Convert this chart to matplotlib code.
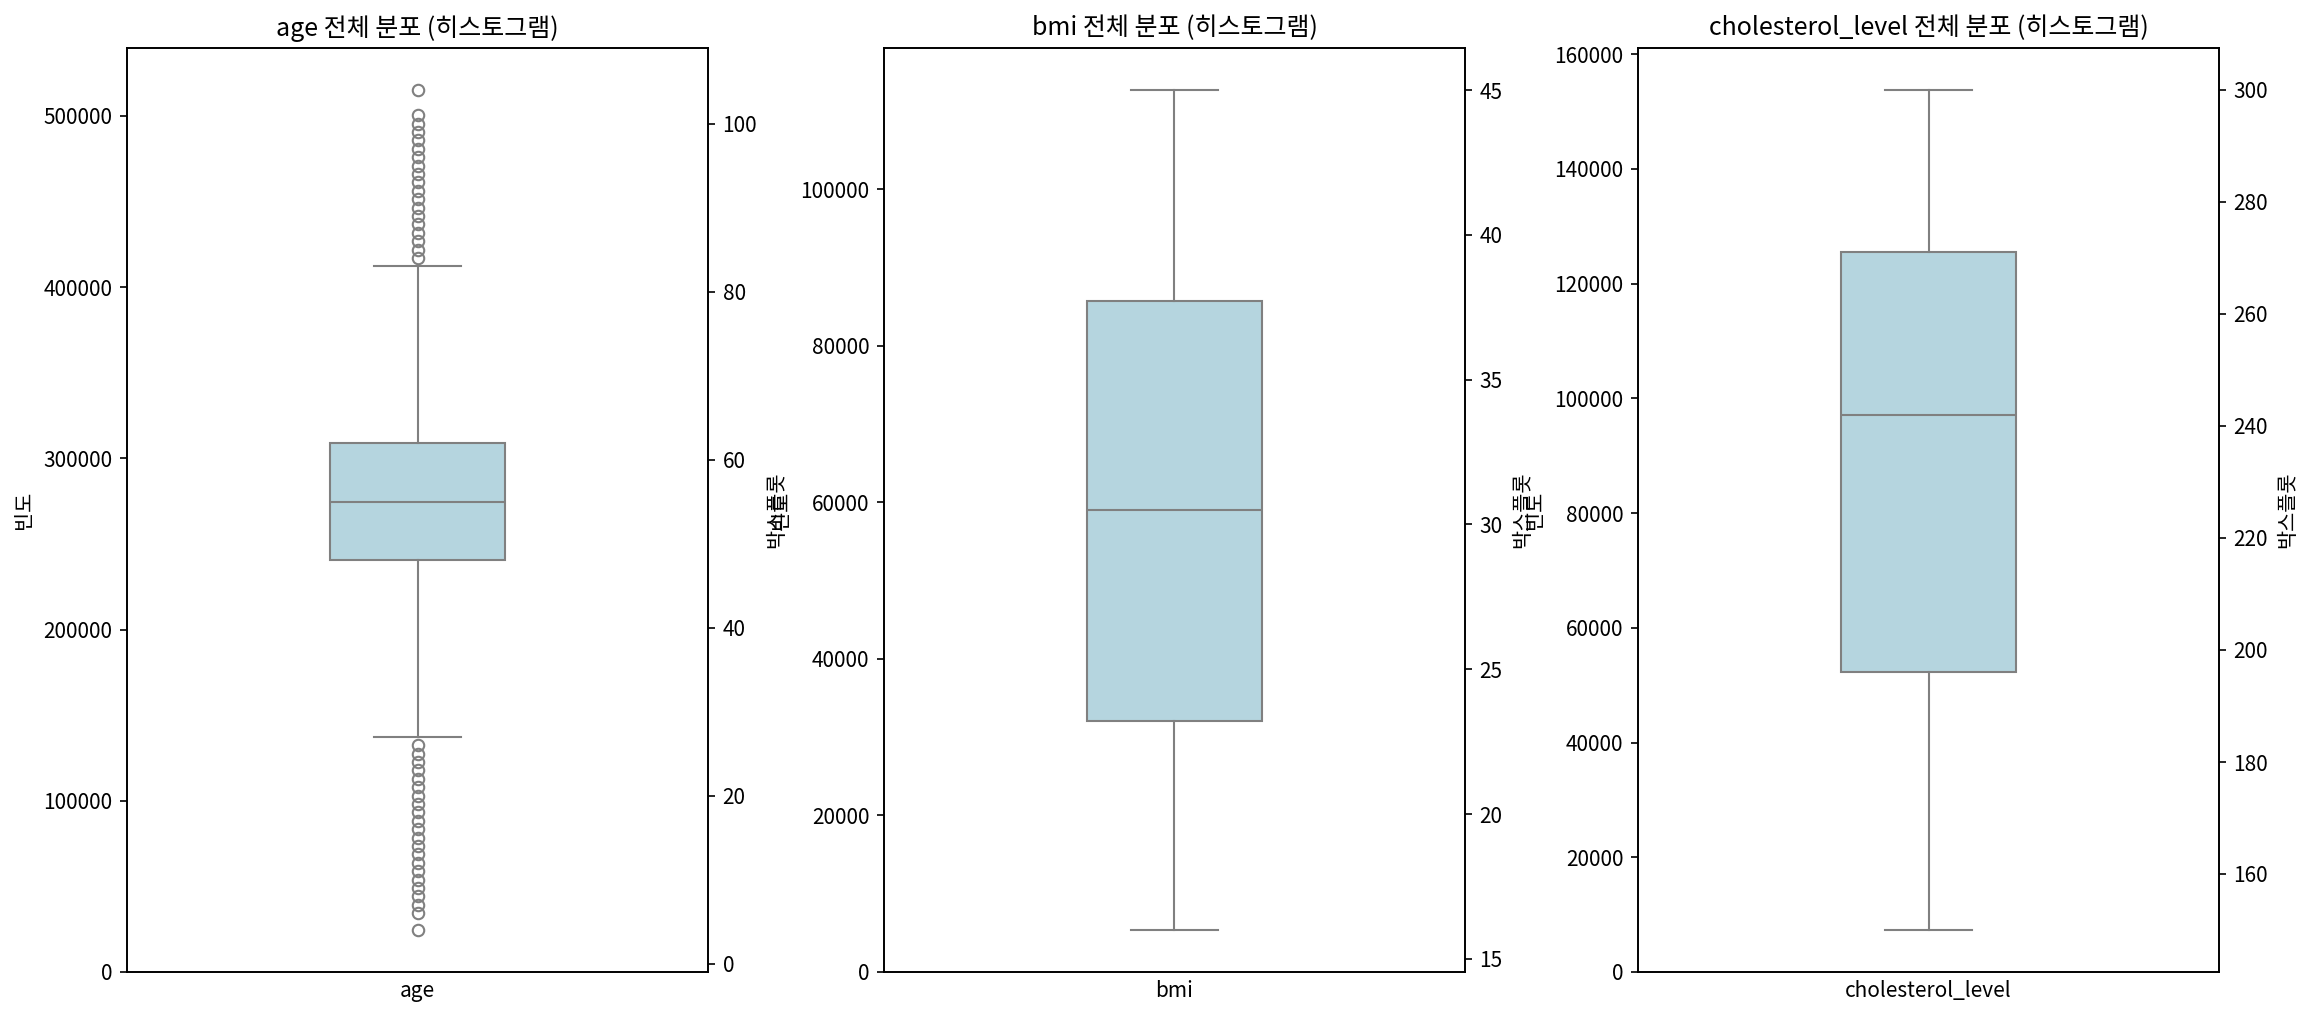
import matplotlib
matplotlib.use("Agg")
from matplotlib import pyplot as plt

plt.rcParams['font.family'] = ['Noto Sans CJK KR', 'DejaVu Sans']
plt.rcParams['axes.unicode_minus'] = False

# columns shown, one panel each
columns = ["age", "bmi", "cholesterol_level"]

# tallest histogram bin per column (only the left axis range shows it)
hist_max_count = [513950, 112440, 153380]

# box plot summary
box_q1 = [48, 23.2, 196]
box_med = [55, 30.5, 242]
box_q3 = [62, 37.7, 271]
whisker_low = [27, 16, 150]
whisker_high = [83, 45, 300]

# outliers (only age has them)
age_fliers = [4, 6, 7, 8, 9, 10, 11, 12, 13, 14, 15, 16, 17, 18, 19, 20,
              21, 22, 23, 24, 25, 26,
              84, 85, 86, 87, 88, 89, 90, 91, 92, 93, 94, 95, 96, 97, 98,
              99, 100, 101, 104]
bmi_fliers = []
chol_fliers = []
fliers = [age_fliers, bmi_fliers, chol_fliers]

box_fill = "#B5D5DF"
line_gray = "0.5"

fig = plt.figure(figsize=(2313 / 150, 1017 / 150), dpi=150)

lefts = [127 / 2313, 884 / 2313, 1638 / 2313]
width = 581 / 2313
bottom = 45 / 1017
height = 924 / 1017

for i, col in enumerate(columns):
    ax = fig.add_axes([lefts[i], bottom, width, height])

    # histogram axis: only its count range is visible
    ax.set_ylim(0, hist_max_count[i] * 1.05)
    ax.set_ylabel("빈도", fontsize=10)
    ax.set_title(f"{col} 전체 분포 (히스토그램)", fontsize=12)

    # box plot on twin axis
    ax2 = ax.twinx()
    stats = {
        "med": box_med[i],
        "q1": box_q1[i],
        "q3": box_q3[i],
        "whislo": whisker_low[i],
        "whishi": whisker_high[i],
        "fliers": fliers[i],
    }
    ax2.bxp([stats], positions=[0], widths=0.8, capwidths=0.4,
            patch_artist=True, showfliers=True, manage_ticks=False,
            boxprops=dict(facecolor=box_fill, edgecolor=line_gray, linewidth=1),
            whiskerprops=dict(color=line_gray, linewidth=1),
            capprops=dict(color=line_gray, linewidth=1),
            medianprops=dict(color=line_gray, linewidth=1),
            flierprops=dict(marker="o", markerfacecolor="none",
                            markeredgecolor=line_gray, markersize=5.5,
                            markeredgewidth=1))
    ax2.set_ylabel("박스플롯", fontsize=10)

    ax.set_xlim(-1.33, 1.33)
    ax.set_xticks([])
    ax.set_xlabel(col, fontsize=10)

fig.savefig("out.png", dpi=150)
